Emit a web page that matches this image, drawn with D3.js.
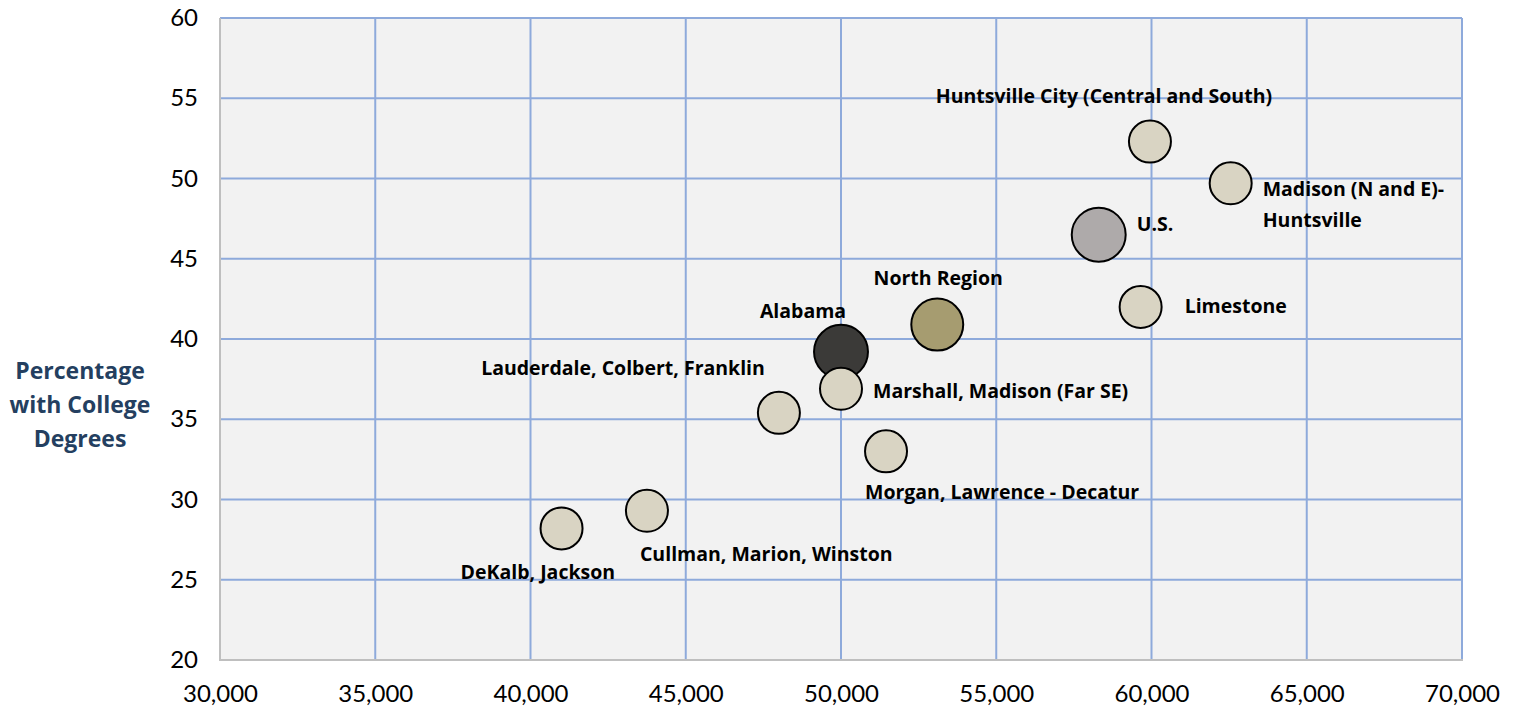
<!DOCTYPE html>
<html><head><meta charset="utf-8">
<script src="https://cdn.jsdelivr.net/npm/d3@7"></script>
<style>body{margin:0;background:#fff}svg{display:block}</style>
</head><body>
<svg id="chart" width="1521" height="713"></svg>
<script>
// ---- data ----
const names = ["Alabama","North Region","U.S.","Huntsville City (Central and South)","Madison (N and E)-\nHuntsville","Limestone","Lauderdale, Colbert, Franklin","Marshall, Madison (Far SE)","Morgan, Lawrence - Decatur","Cullman, Marion, Winston","DeKalb, Jackson"];
const income = [50000,53100,58300,59950,62550,59650,48000,50000,51450,43750,41000];
const collegePct = [39.2,40.9,46.5,52.3,49.7,42.0,35.4,36.9,33.0,29.3,28.2];
const bubbleSize = [1.65,1.53,1.65,1,1,1,1,1,1,1,1];
const kind = ["state","north","us","region","region","region","region","region","region","region","region"];
const xTicks = [30000,35000,40000,45000,50000,55000,60000,65000,70000];
const yTicks = [20,25,30,35,40,45,50,55,60];
const yTitle = ["Percentage","with College","Degrees"];
// label placement (offset from bubble centre, px) and anchor
const labelDx = [-38,1,38,-46,32,44,-14,32,-21,-7,-101];
const labelDy = [-39,-45,-9,-44,7,1,-43,4,42,45,45];
const labelAnchor = ["middle","middle","start","middle","start","start","end","start","start","start","start"];

const colors = {state:"#3b3a38",north:"#a69c70",us:"#aeaaaa",region:"#d9d4c3"};

const svg = d3.select("#chart");
const L=220,R=1462,T=18,B=660;
const x = d3.scaleLinear().domain([30000,70000]).range([L,R]);
const y = d3.scaleLinear().domain([20,60]).range([B,T]);
const r = d3.scaleSqrt().domain([0,1]).range([0,21]);

svg.append("rect").attr("x",L).attr("y",T).attr("width",R-L).attr("height",B-T).attr("fill","#f2f2f2");

const grid = svg.append("g");
grid.selectAll("line.v").data(xTicks.slice(1)).join("line")
  .attr("x1",d=>x(d)).attr("x2",d=>x(d)).attr("y1",T).attr("y2",B)
  .attr("stroke","#8eaadb").attr("stroke-width",2);
grid.selectAll("line.h").data(yTicks.slice(1)).join("line")
  .attr("x1",L).attr("x2",R).attr("y1",d=>y(d)).attr("y2",d=>y(d))
  .attr("stroke","#8eaadb").attr("stroke-width",2);
// axes lines
svg.append("line").attr("x1",L).attr("x2",L).attr("y1",T).attr("y2",B+1).attr("stroke","#bfbfbf").attr("stroke-width",2);
svg.append("line").attr("x1",L).attr("x2",R+1).attr("y1",B).attr("y2",B).attr("stroke","#bfbfbf").attr("stroke-width",2);

// axes (labels only)
const fmt = d3.format(",");
const xa = svg.append("g").attr("transform",`translate(0,${B})`)
  .call(d3.axisBottom(x).tickValues(xTicks).tickFormat(fmt).tickSize(0).tickPadding(25));
const ya = svg.append("g").attr("transform",`translate(${L},0)`)
  .call(d3.axisLeft(y).tickValues(yTicks).tickSize(0).tickPadding(22));
[xa,ya].forEach(a=>{a.select(".domain").remove();
  a.selectAll("text").attr("font-family","Lato, sans-serif").attr("font-size",24).attr("fill","#000");});
xa.selectAll("text").attr("dy","0.71em");

// y title
svg.append("text").attr("x",80).attr("y",373).attr("text-anchor","middle")
  .attr("font-family","'Open Sans', sans-serif").attr("font-weight","bold").attr("font-size",23).attr("fill","#243f60")
  .selectAll("tspan").data(yTitle).join("tspan").attr("x",80).attr("dy",(d,i)=>i?34:0).attr("dominant-baseline","middle").text(d=>d);

// bubbles
const pts = names.map((n,i)=>({n,i,x:income[i],y:collegePct[i],s:bubbleSize[i],k:kind[i]}));
svg.append("g").selectAll("circle").data(pts).join("circle")
  .attr("cx",d=>x(d.x)).attr("cy",d=>y(d.y)).attr("r",d=>r(d.s))
  .attr("fill",d=>colors[d.k]).attr("stroke","#000").attr("stroke-width",2);

// labels
const lg = svg.append("g").attr("font-family","'Open Sans', sans-serif").attr("font-weight","bold").attr("font-size",19.5).attr("fill","#000");
pts.forEach(d=>{
  const t = lg.append("text").attr("text-anchor",labelAnchor[d.i]);
  const lines = d.n.split("\n");
  const cx = x(d.x)+labelDx[d.i], cy=y(d.y)+labelDy[d.i];
  lines.forEach((ln,j)=>{
    t.append("tspan").attr("x",cx).attr("y",cy+j*31).attr("dominant-baseline","middle").text(ln);
  });
});
</script>
</body></html>
